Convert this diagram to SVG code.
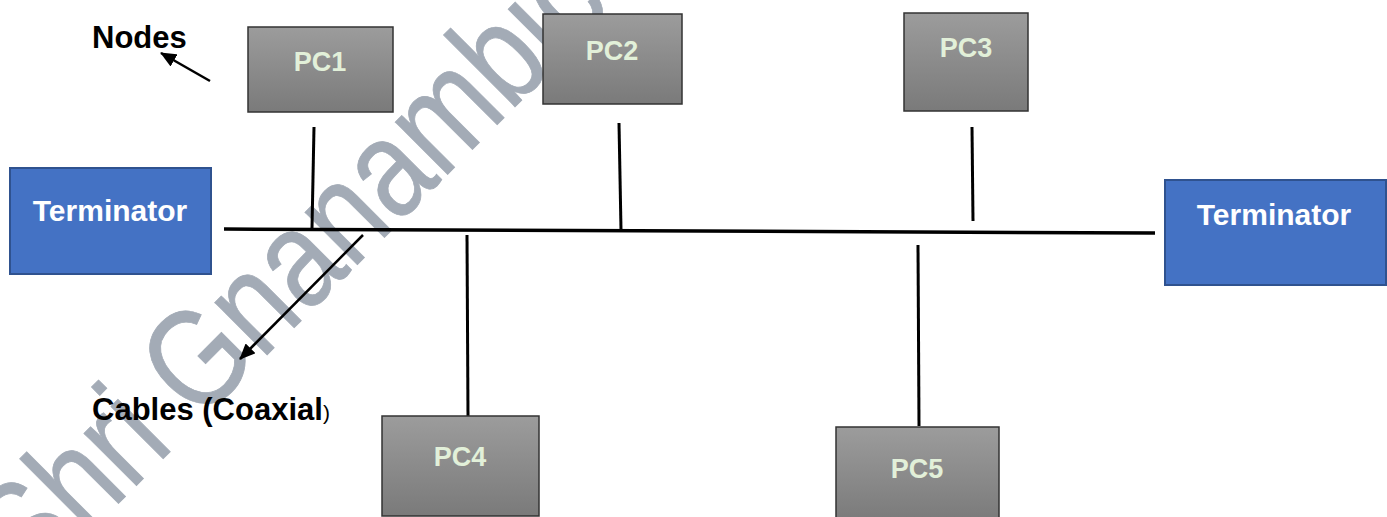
<svg xmlns="http://www.w3.org/2000/svg" width="1387" height="517" viewBox="0 0 1387 517">
  <style>
    .pc rect { fill: url(#pcGrad); stroke: #333333; stroke-width: 1.5; }
    .pc text { font-family: "Liberation Sans", Arial, sans-serif; font-weight: bold; font-size: 27px; fill: #E2F0D9; text-anchor: middle; }
    .term rect { fill: #4472C4; stroke: #2F528F; stroke-width: 2; }
    .term text { font-family: "Liberation Sans", Arial, sans-serif; font-weight: bold; font-size: 30px; fill: #FFFFFF; text-anchor: middle; }
    .label { font-family: "Liberation Sans", Arial, sans-serif; font-weight: bold; font-size: 31px; fill: #000000; }
    .wire { stroke: #000000; stroke-width: 3; fill: none; }
    .bus { stroke: #000000; stroke-width: 3.5; fill: none; }
    .arrow { stroke: #000000; stroke-width: 2.5; fill: none; marker-end: url(#head); }
    .watermark { font-family: "Liberation Sans", Arial, sans-serif; font-size: 140px; fill: #A3ABB6; stroke: #A3ABB6; stroke-width: 0.8; }
  </style>
  <defs>
    <linearGradient id="pcGrad" x1="0" y1="0" x2="0" y2="1">
      <stop offset="0" stop-color="#9C9C9C"/>
      <stop offset="1" stop-color="#7A7A7A"/>
    </linearGradient>
    <marker id="head" markerUnits="userSpaceOnUse" markerWidth="16" markerHeight="14" viewBox="0 0 16 14" refX="15" refY="7" orient="auto">
      <path d="M0,0 L16,7 L0,14 z" fill="#000000"/>
    </marker>
  </defs>
  <rect width="1387" height="517" fill="#FFFFFF"/>

  <text class="watermark" x="0" y="0" transform="translate(31.5 590.5) rotate(-45) scale(0.82 1)">Shri Gnanambic</text>

  <g id="connectors">
    <line class="bus" x1="224" y1="229" x2="1155" y2="233"/>
    <line class="wire" x1="314" y1="127" x2="312" y2="228"/>
    <line class="wire" x1="619" y1="123" x2="621" y2="230"/>
    <line class="wire" x1="972" y1="127" x2="973" y2="221"/>
    <line class="wire" x1="467" y1="235" x2="468" y2="416"/>
    <line class="wire" x1="918" y1="245" x2="919" y2="426"/>
    <line class="arrow" x1="210" y1="81" x2="161" y2="53"/>
    <line class="arrow" x1="363" y1="235" x2="240" y2="359"/>
  </g>

  <g id="term-left" class="term">
    <rect x="10" y="168" width="201" height="106"/>
    <text x="110" y="221">Terminator</text>
  </g>
  <g id="term-right" class="term">
    <rect x="1165" y="180" width="221" height="105"/>
    <text x="1274" y="225">Terminator</text>
  </g>

  <g id="pc1" class="pc">
    <rect x="248" y="27" width="145" height="85"/>
    <text x="320" y="71">PC1</text>
  </g>
  <g id="pc2" class="pc">
    <rect x="543" y="14" width="139" height="90"/>
    <text x="612" y="60">PC2</text>
  </g>
  <g id="pc3" class="pc">
    <rect x="904" y="13" width="124" height="98"/>
    <text x="966" y="57">PC3</text>
  </g>
  <g id="pc4" class="pc">
    <rect x="382" y="416" width="157" height="100"/>
    <text x="460" y="466">PC4</text>
  </g>
  <g id="pc5" class="pc">
    <rect x="836" y="427" width="163" height="95"/>
    <text x="917" y="478">PC5</text>
  </g>

  <g id="label-nodes">
    <text class="label" x="92" y="48">Nodes</text>
  </g>
  <g id="label-cables">
    <text class="label" x="92" y="420">Cables (Coaxial<tspan font-weight="normal" font-size="21px">)</tspan></text>
  </g>
</svg>
